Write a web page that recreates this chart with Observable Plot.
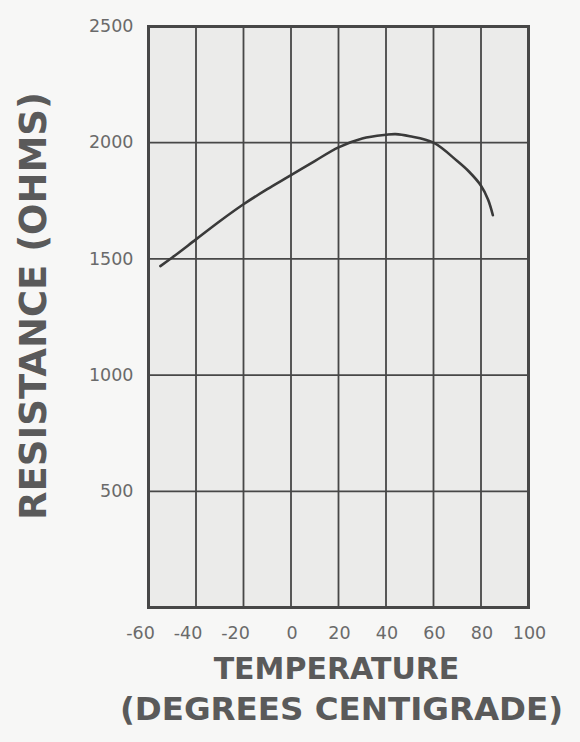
<!DOCTYPE html>
<html>
<head>
<meta charset="utf-8">
<script src="https://cdn.jsdelivr.net/npm/d3@7"></script>
<script src="https://cdn.jsdelivr.net/npm/@observablehq/plot@0.6"></script>
<style>
  html, body { margin: 0; padding: 0; background: #f7f7f6; }
  #chart svg { display: block; }
</style>
</head>
<body>
<div id="chart"></div>
<script>
// Temperature (°C) vs resistance (ohms)
const temperature = [-55, -50, -40, -30, -20, -10, 0, 10, 20, 30, 40, 44, 50, 60, 70, 75, 80, 83, 85];
const resistance  = [1469, 1506, 1584, 1662, 1735, 1800, 1860, 1921, 1980, 2018, 2034, 2037, 2028, 2000, 1921, 1875, 1815, 1755, 1688];

const xTicksNeg = [-60, -40, -20];
const xTicksPos = [0, 20, 40, 60, 80, 100];
const xGrid = [-40, -20, 0, 20, 40, 60, 80];
const yTicks = [500, 1000, 1500, 2000, 2500];
const yGrid = [500, 1000, 1500, 2000];

const xTitle = "TEMPERATURE";
const xSubtitle = "(DEGREES CENTIGRADE)";
const yTitle = "RESISTANCE (OHMS)";

const data = temperature.map((t, i) => ({t, r: resistance[i]}));

const ink = "#474747";
const tickInk = "#6a6a6a";
const titleInk = "#5a5a5a";

const chart = Plot.plot({
  width: 580,
  height: 742,
  marginLeft: 148,
  marginRight: 52,
  marginTop: 26,
  marginBottom: 135,
  style: {fontFamily: "DejaVu Sans", background: "#f7f7f6", color: tickInk},
  x: {domain: [-60, 100]},
  y: {domain: [0, 2500]},
  marks: [
    Plot.frame({fill: "#ebebea"}),
    Plot.gridX(xGrid, {stroke: ink, strokeOpacity: 1, strokeWidth: 1.8}),
    Plot.gridY(yGrid, {stroke: ink, strokeOpacity: 1, strokeWidth: 1.8}),
    Plot.frame({stroke: ink, strokeWidth: 3}),
    Plot.line(data, {x: "t", y: "r", curve: "catmull-rom", stroke: "#3a3a3a", strokeWidth: 2.6}),
    Plot.axisY(yTicks, {tickSize: 0, tickPadding: 15, fontSize: 17.5, label: null,
      tickFormat: d => String(d), style: {letterSpacing: "3px"}, fill: tickInk}),
    Plot.axisX(xTicksNeg, {tickSize: 0, tickPadding: 19, fontSize: 17.5, label: null, dx: -8,
      tickFormat: d => "-" + Math.abs(d), style: {letterSpacing: "3px"}, fill: tickInk}),
    Plot.axisX(xTicksPos, {tickSize: 0, tickPadding: 19, fontSize: 17.5, label: null, dx: 1,
      tickFormat: d => String(d), style: {letterSpacing: "3px"}, fill: tickInk}),
    Plot.text([xTitle], {frameAnchor: "bottom", lineAnchor: "middle", textAnchor: "middle",
      dy: 62, dx: -2, fontSize: 30, fontWeight: "bold",
      fill: titleInk, style: {letterSpacing: "5.5px"}}),
    Plot.text([xSubtitle], {frameAnchor: "bottom", lineAnchor: "middle", textAnchor: "middle",
      dy: 102, dx: 3, fontSize: 32.5, fontWeight: "bold",
      fill: titleInk, style: {letterSpacing: "8px"}}),
    Plot.text([yTitle], {frameAnchor: "left", lineAnchor: "middle", textAnchor: "middle",
      dx: -114, dy: -11, rotate: -90, fontSize: 37,
      fontWeight: "bold", fill: titleInk, style: {letterSpacing: "3px"}})
  ]
});
document.getElementById("chart").appendChild(chart);
</script>
</body>
</html>
